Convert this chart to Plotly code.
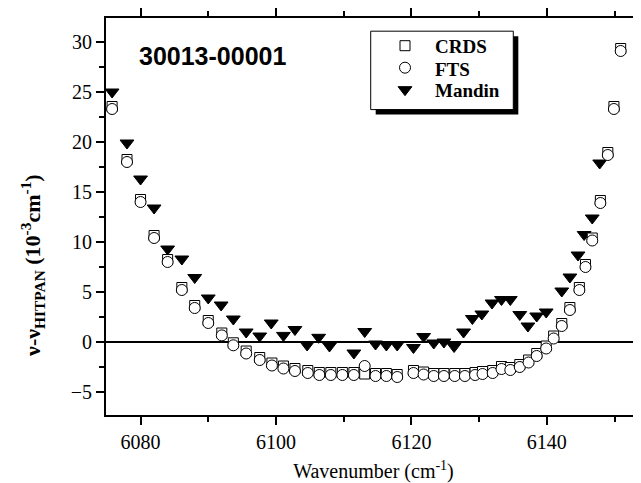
import plotly.graph_objects as go

# wavenumber positions (cm-1) and deviations (10^-3 cm-1)
fts_x = [6075.8, 6078.0, 6080.0, 6082.0, 6084.0, 6086.1, 6088.0, 6090.0, 6092.0, 6093.7,
         6095.6, 6097.6, 6099.4, 6101.1, 6102.8, 6104.7, 6106.4, 6108.1, 6109.8, 6111.5,
         6113.1, 6114.7, 6116.3, 6117.9, 6120.3, 6121.8, 6123.3, 6124.8, 6126.4, 6127.9,
         6129.4, 6130.5, 6132.0, 6133.3, 6134.6, 6136.0, 6137.3, 6138.5, 6139.9, 6141.0,
         6142.2, 6143.4, 6144.8, 6145.7, 6146.7, 6147.9, 6149.0, 6149.9, 6150.9]
fts_y = [23.3, 18.0, 14.0, 10.4, 8.0, 5.2, 3.4, 1.9, 0.66, -0.33,
         -1.15, -1.8, -2.35, -2.65, -2.9, -3.1, -3.3, -3.3, -3.3, -3.3,
         -2.4, -3.4, -3.4, -3.5, -3.1, -3.25, -3.4, -3.4, -3.4, -3.4,
         -3.3, -3.2, -3.1, -2.7, -2.8, -2.5, -2.05, -1.4, -0.65, 0.35,
         1.6, 3.2, 5.2, 7.5, 10.15, 13.9, 18.7, 23.3, 29.1]

crds_x = fts_x
crds_y = [23.55, 18.25, 14.25, 10.65, 8.25, 5.45, 3.65, 2.15, 0.9, -0.08,
          -0.9, -1.55, -2.1, -2.4, -2.65, -2.85, -3.05, -3.05, -3.05, -3.05,
          -3.2, -3.15, -3.15, -3.25, -2.85, -3.0, -3.15, -3.15, -3.15, -3.15,
          -3.05, -2.95, -2.85, -2.45, -2.55, -2.25, -1.8, -1.15, -0.4, 0.6,
          1.85, 3.45, 5.45, 7.75, 10.4, 14.15, 18.95, 23.55, 29.35]

mandin_x = [6075.8, 6078.0, 6080.0, 6082.0, 6084.0, 6086.1, 6088.0, 6090.0, 6091.9, 6093.7,
            6095.6, 6097.6, 6099.3, 6101.1, 6102.8, 6104.6, 6106.3, 6107.9, 6111.5, 6113.1,
            6114.7, 6116.3, 6117.9, 6120.3, 6121.8, 6123.3, 6124.8, 6126.3, 6127.7, 6129.0,
            6130.4, 6131.9, 6133.3, 6134.6, 6136.0, 6137.2, 6138.5, 6139.9, 6142.2, 6143.4,
            6144.6, 6145.5, 6146.7, 6147.8]
mandin_y = [25.0, 19.9, 16.3, 13.4, 9.3, 8.3, 6.45, 4.4, 3.7, 2.3,
            1.0, 0.6, 1.9, 0.66, 1.25, -0.3, 0.47, -0.4, -1.1, 1.05,
            -0.2, -0.3, -0.3, -0.55, 0.55, -0.1, 0.0, -0.45, 1.0, 2.35,
            2.8, 3.9, 4.25, 4.25, 2.75, 1.6, 2.6, 3.0, 5.1, 6.5,
            8.7, 10.75, 12.4, 17.9]

legend_labels = ["CRDS", "FTS", "Mandin"]

serif = "Liberation Serif"

fig = go.Figure()

fig.add_trace(go.Scatter(
    x=mandin_x, y=mandin_y, mode="markers", name=" ", legendrank=3,
    marker=dict(symbol="triangle-down", size=12, color="black",
                line=dict(color="black", width=1)),
))
fig.add_trace(go.Scatter(
    x=crds_x, y=crds_y, mode="markers", name=" ", legendrank=1,
    marker=dict(symbol="square", size=10, color="white",
                line=dict(color="black", width=1)),
))
fig.add_trace(go.Scatter(
    x=fts_x, y=fts_y, mode="markers", name=" ", legendrank=2,
    marker=dict(symbol="circle", size=11, color="white",
                line=dict(color="black", width=1)),
))

# legend frame with drop shadow
fig.add_shape(type="rect", xref="paper", yref="paper", layer="above",
              x0=0.5041, x1=0.7707, y0=0.7568, y1=0.9543,
              fillcolor="black", line=dict(width=0))
fig.add_shape(type="rect", xref="paper", yref="paper", layer="above",
              x0=0.4948, x1=0.7613, y0=0.7693, y1=0.9668,
              fillcolor="white", line=dict(color="black", width=1))

# legend labels
for lab, yy in zip(legend_labels, [0.9293, 0.8708, 0.8183]):
    fig.add_annotation(text="<b>" + lab + "</b>", xref="paper", yref="paper",
                       x=0.6112, y=yy, xanchor="left", yanchor="middle",
                       showarrow=False, font=dict(family=serif, size=19, color="black"))

fig.add_annotation(text="<b>30013-00001</b>", xref="paper", yref="paper",
                   x=0.058, y=0.905, xanchor="left", yanchor="middle",
                   showarrow=False,
                   font=dict(family="Liberation Sans", size=25, color="black"))

# y-axis title
fig.add_annotation(text="<b>ν-ν<sub>HITPAN</sub> (10<sup>-3</sup>cm<sup>-1</sup>)</b>",
                   xref="paper", yref="paper", x=-0.1364, y=0.14,
                   xanchor="center", yanchor="bottom", textangle=-90,
                   showarrow=False, font=dict(family=serif, size=22, color="black"))

fig.update_layout(
    width=633, height=475,
    margin=dict(l=98, r=0, t=7, b=68),
    plot_bgcolor="white", paper_bgcolor="white",
    font=dict(family=serif, size=20, color="black"),
    legend=dict(x=0.5215, y=0.9705, xanchor="left", yanchor="top",
                bgcolor="rgba(0,0,0,0)", borderwidth=0,
                font=dict(family=serif, size=14.6, color="black")),
    xaxis=dict(
        range=[6074.9, 6153.9], tickmode="linear", tick0=6080, dtick=20,
        ticks="outside", ticklen=8, tickwidth=1.5, tickcolor="black",
        minor=dict(dtick=10, tick0=6080, ticks="outside", ticklen=5,
                   tickwidth=1.5, tickcolor="black"),
        showline=True, linewidth=2, linecolor="black", mirror="ticks",
        showgrid=False, zeroline=False,
        tickfont=dict(family=serif, size=20),
        title=dict(text="Wavenumber (cm<sup>-1</sup>)", standoff=12,
                   font=dict(family=serif, size=20)),
    ),
    yaxis=dict(
        range=[-7.3, 32.4], tickmode="linear", tick0=0, dtick=5,
        ticks="outside", ticklen=8, tickwidth=1.5, tickcolor="black",
        minor=dict(dtick=2.5, tick0=0, ticks="outside", ticklen=5,
                   tickwidth=1.5, tickcolor="black"),
        showline=True, linewidth=2, linecolor="black",
        showgrid=False, zeroline=True, zerolinecolor="black", zerolinewidth=1.5,
        tickfont=dict(family=serif, size=20),
    ),
)

fig.write_html("out.html")
